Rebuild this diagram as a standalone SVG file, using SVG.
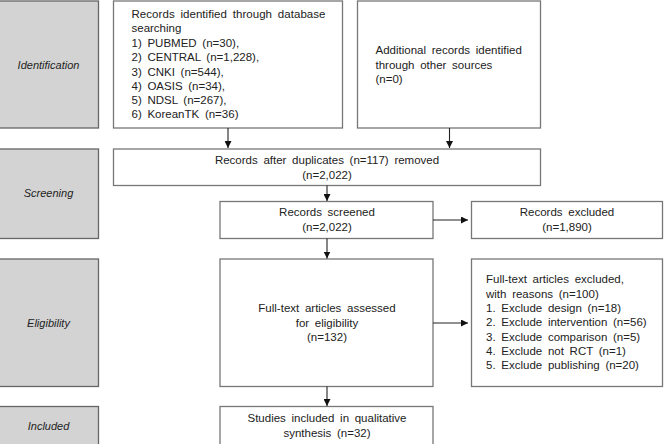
<svg xmlns="http://www.w3.org/2000/svg" width="665" height="444" viewBox="0 0 665 444">
<defs>
<style>
.phase{fill:#d3d3d3;stroke:#666;stroke-width:1.3}
.box{fill:#fff;stroke:#777;stroke-width:1.3}
text{font-family:"Liberation Sans",Arial,sans-serif;font-size:11.5px;fill:#222;word-spacing:2.5px}
.pl{font-style:italic;text-anchor:middle;font-size:11px;word-spacing:0}
.c{text-anchor:middle}
.conn line{stroke:#222;stroke-width:1.1}
</style>
<marker id="ah" markerWidth="7" markerHeight="7" refX="7" refY="3.5" orient="auto" markerUnits="userSpaceOnUse">
<path d="M0,0 L7,3.5 L0,7 Z" fill="#111"/>
</marker>
</defs>
<rect width="665" height="444" fill="#fff"/>
<g id="phase-identification"><rect class="phase" x="-1" y="1" width="99.5" height="127"/><text class="pl" x="48.5" y="69">Identification</text></g>
<g id="phase-screening"><rect class="phase" x="-1" y="149" width="99.5" height="89.5"/><text class="pl" x="48.5" y="197">Screening</text></g>
<g id="phase-eligibility"><rect class="phase" x="-1" y="259" width="99.5" height="127.5"/><text class="pl" x="48.5" y="327">Eligibility</text></g>
<g id="phase-included"><rect class="phase" x="-1" y="406.5" width="99.5" height="50"/><text class="pl" x="48.5" y="430">Included</text></g>

<g id="db-records"><rect class="box" x="113.5" y="1" width="229" height="127"/>
<text x="131.5" y="18" textLength="194" lengthAdjust="spacing">Records identified through database</text>
<text x="131.5" y="32">searching</text>
<text x="131.5" y="46.5">1) PUBMED (n=30),</text>
<text x="131.5" y="61">2) CENTRAL (n=1,228),</text>
<text x="131.5" y="75.5">3) CNKI (n=544),</text>
<text x="131.5" y="90">4) OASIS (n=34),</text>
<text x="131.5" y="104">5) NDSL (n=267),</text>
<text x="131.5" y="118">6) KoreanTK (n=36)</text>
</g>
<g id="other-records"><rect class="box" x="357.5" y="1" width="183" height="127"/>
<text x="375.5" y="54">Additional records identified</text>
<text x="375.5" y="68.5">through other sources</text>
<text x="375.5" y="83">(n=0)</text>
</g>
<g id="after-duplicates"><rect class="box" x="113.5" y="149" width="427" height="36.5"/>
<text class="c" x="327" y="164">Records after duplicates (n=117) removed</text>
<text class="c" x="327" y="179">(n=2,022)</text>
</g>
<g id="screened"><rect class="box" x="220" y="201.5" width="213" height="37"/>
<text class="c" x="327" y="216">Records screened</text>
<text class="c" x="327" y="231">(n=2,022)</text>
</g>
<g id="excluded"><rect class="box" x="471.5" y="201.5" width="191" height="37"/>
<text class="c" x="567" y="216">Records excluded</text>
<text class="c" x="567" y="231">(n=1,890)</text>
</g>
<g id="full-text"><rect class="box" x="220" y="259" width="213" height="127.5"/>
<text class="c" x="327" y="312">Full-text articles assessed</text>
<text class="c" x="327" y="326.5">for eligibility</text>
<text class="c" x="327" y="341">(n=132)</text>
</g>
<g id="ft-excluded"><rect class="box" x="471.5" y="259" width="191" height="127.5"/>
<text x="486" y="283">Full-text articles excluded,</text>
<text x="486" y="297.5">with reasons (n=100)</text>
<text x="486" y="311.5">1. Exclude design (n=18)</text>
<text x="486" y="326">2. Exclude intervention (n=56)</text>
<text x="486" y="340.5">3. Exclude comparison (n=5)</text>
<text x="486" y="354.5">4. Exclude not RCT (n=1)</text>
<text x="486" y="369">5. Exclude publishing (n=20)</text>
</g>
<g id="included"><rect class="box" x="220" y="406.5" width="213" height="50"/>
<text class="c" x="327" y="422">Studies included in qualitative</text>
<text class="c" x="327" y="437">synthesis (n=32)</text>
</g>

<g class="conn" id="connectors">
<line x1="228" y1="128" x2="228" y2="148" marker-end="url(#ah)"/>
<line x1="449.5" y1="128" x2="449.5" y2="148" marker-end="url(#ah)"/>
<line x1="327" y1="185.5" x2="327" y2="201" marker-end="url(#ah)"/>
<line x1="433" y1="220" x2="468" y2="220" marker-end="url(#ah)"/>
<line x1="327" y1="238.5" x2="327" y2="258.5" marker-end="url(#ah)"/>
<line x1="433" y1="323" x2="468" y2="323" marker-end="url(#ah)"/>
<line x1="327" y1="386.5" x2="327" y2="406" marker-end="url(#ah)"/>
</g>
</svg>
